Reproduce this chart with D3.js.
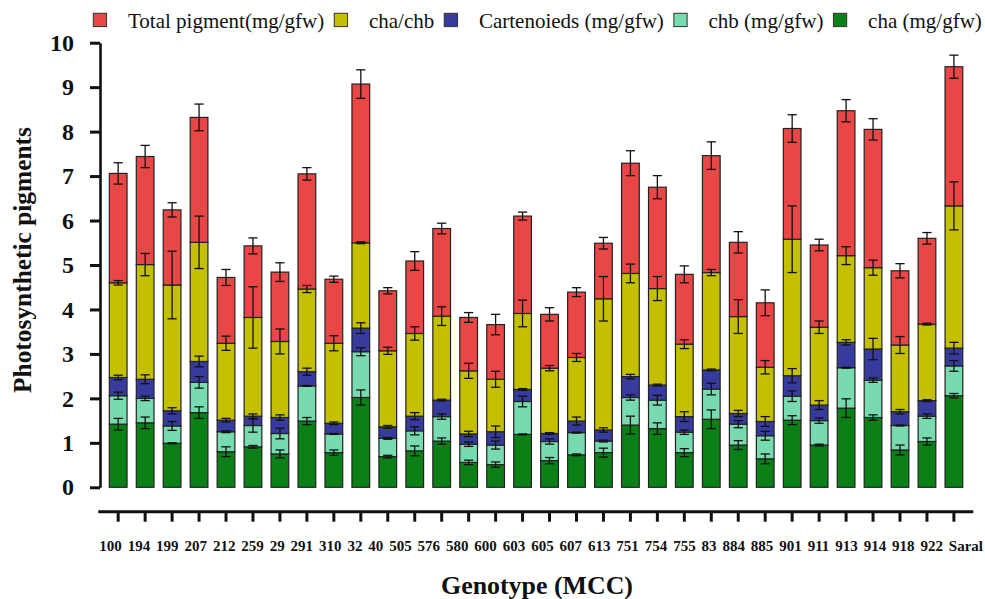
<!DOCTYPE html>
<html>
<head>
<meta charset="utf-8">
<script src="https://cdn.jsdelivr.net/npm/d3@7"></script>
<style>
  body { margin: 0; background: #fff; }
  svg { display: block; }
  text { font-family: "Liberation Serif", "Times New Roman", serif; }
</style>
</head>
<body>
<div id="chart"></div>
<script>
// genotypes on the x axis
const genotypes = ["100", "194", "199", "207", "212", "259", "29", "291", "310", "32", "40",
  "505", "576", "580", "600", "603", "605", "607", "613", "751", "754", "755", "83",
  "884", "885", "901", "911", "913", "914", "918", "922", "Saral"];

// stacked segment heights, bottom to top
const cha    = [1.42, 1.45, 0.99, 1.68, 0.80, 0.91, 0.75, 1.49, 0.78, 2.02, 0.69, 0.82, 1.04, 0.56, 0.51, 1.19,
                0.60, 0.73, 0.78, 1.40, 1.32, 0.78, 1.53, 0.95, 0.64, 1.51, 0.95, 1.78, 1.57, 0.84, 1.03, 2.06];
const chb    = [0.64, 0.55, 0.39, 0.68, 0.45, 0.48, 0.46, 0.79, 0.42, 1.03, 0.41, 0.45, 0.55, 0.41, 0.44, 0.74,
                0.43, 0.50, 0.26, 0.62, 0.64, 0.46, 0.68, 0.47, 0.52, 0.54, 0.55, 0.91, 0.84, 0.55, 0.57, 0.67];
const carot  = [0.41, 0.43, 0.34, 0.47, 0.26, 0.21, 0.36, 0.32, 0.24, 0.53, 0.26, 0.33, 0.37, 0.23, 0.30, 0.27,
                0.18, 0.26, 0.25, 0.47, 0.34, 0.35, 0.43, 0.24, 0.32, 0.46, 0.35, 0.57, 0.70, 0.31, 0.35, 0.40];
const chaChb = [2.13, 2.58, 2.83, 2.68, 1.73, 2.22, 1.71, 1.86, 1.80, 1.92, 1.71, 1.86, 1.89, 1.42, 1.18, 1.71,
                1.47, 1.43, 2.95, 2.32, 2.17, 1.63, 2.19, 2.18, 1.22, 3.07, 1.75, 1.95, 1.83, 1.50, 1.72, 3.20];
const total  = [2.46, 2.43, 1.69, 2.81, 1.48, 1.61, 1.56, 2.59, 1.44, 3.57, 1.35, 1.63, 1.97, 1.20, 1.23, 2.19,
                1.21, 1.47, 1.25, 2.48, 2.28, 1.57, 2.63, 1.67, 1.45, 2.49, 1.85, 3.26, 3.11, 1.67, 1.93, 3.13];

// error bars (+/-) for each segment
const chaErr    = [0.13, 0.13, 0.01, 0.13, 0.11, 0.03, 0.09, 0.08, 0.06, 0.17, 0.03, 0.11, 0.07, 0.05, 0.06, 0.01,
                   0.07, 0.02, 0.10, 0.20, 0.13, 0.09, 0.21, 0.10, 0.11, 0.10, 0.02, 0.21, 0.06, 0.11, 0.08, 0.05];
const chbErr    = [0.08, 0.05, 0.10, 0.13, 0.02, 0.15, 0.12, 0.01, 0.01, 0.09, 0.02, 0.09, 0.06, 0.05, 0.09, 0.12,
                   0.06, 0.01, 0.02, 0.06, 0.11, 0.05, 0.13, 0.08, 0.10, 0.12, 0.06, 0.01, 0.05, 0.01, 0.05, 0.12];
const carotErr  = [0.05, 0.10, 0.07, 0.12, 0.04, 0.05, 0.06, 0.08, 0.03, 0.12, 0.03, 0.08, 0.02, 0.06, 0.13, 0.02,
                   0.02, 0.09, 0.05, 0.05, 0.02, 0.11, 0.02, 0.07, 0.11, 0.16, 0.10, 0.06, 0.24, 0.05, 0.02, 0.13];
const chaChbErr = [0.05, 0.25, 0.76, 0.59, 0.16, 0.69, 0.28, 0.08, 0.17, 0.02, 0.08, 0.15, 0.21, 0.17, 0.18, 0.30,
                   0.06, 0.09, 0.50, 0.21, 0.27, 0.10, 0.07, 0.38, 0.15, 0.75, 0.14, 0.20, 0.17, 0.19, 0.02, 0.54];
const totalErr  = [0.24, 0.25, 0.16, 0.30, 0.18, 0.18, 0.21, 0.14, 0.07, 0.32, 0.07, 0.21, 0.12, 0.11, 0.23, 0.09,
                   0.15, 0.10, 0.13, 0.28, 0.26, 0.19, 0.31, 0.24, 0.29, 0.31, 0.13, 0.25, 0.24, 0.16, 0.13, 0.26];

const yTicks = [0, 1, 2, 3, 4, 5, 6, 7, 8, 9, 10];

const keys = ["cha", "chb", "carot", "ratio", "total"];
const labels = { cha: "cha (mg/gfw)", chb: "chb (mg/gfw)", carot: "Cartenoieds (mg/gfw)",
                 ratio: "cha/chb", total: "Total pigment(mg/gfw)" };
const colors = { cha: "#0b8017", chb: "#78dbaf", carot: "#373b9e", ratio: "#c4c000", total: "#e94646" };
const errs = { cha: chaErr, chb: chbErr, carot: carotErr, ratio: chaChbErr, total: totalErr };

const rows = genotypes.map((g, i) => ({
  genotype: g, cha: cha[i], chb: chb[i], carot: carot[i], ratio: chaChb[i], total: total[i]
}));

const svg = d3.select("#chart").append("svg")
  .attr("width", 985)
  .attr("height", 599);

const x = d3.scaleBand()
  .domain(genotypes)
  .range([104.7, 967.4])
  .paddingInner(0.343)
  .paddingOuter(0.1715);

const y = d3.scaleLinear()
  .domain([0, 10])
  .range([487.3, 42.7]);

const series = d3.stack().keys(keys)(rows);

// bars
svg.append("g")
  .selectAll("g")
  .data(series)
  .join("g")
  .attr("fill", d => colors[d.key])
  .selectAll("rect")
  .data(d => d)
  .join("rect")
  .attr("x", d => x(d.data.genotype))
  .attr("y", d => y(d[1]))
  .attr("width", x.bandwidth())
  .attr("height", d => y(d[0]) - y(d[1]))
  .attr("stroke", "#222")
  .attr("stroke-width", 1.2);

// error bars at the top of each segment
const errG = svg.append("g").attr("stroke", "#111").attr("stroke-width", 1.3);
series.forEach(s => {
  s.forEach((d, i) => {
    const e = errs[s.key][i];
    const cx = x(d.data.genotype) + x.bandwidth() / 2;
    const y1 = y(d[1] + e), y2 = y(d[1] - e);
    errG.append("line").attr("x1", cx).attr("x2", cx).attr("y1", y1).attr("y2", y2);
    errG.append("line").attr("x1", cx - 4.6).attr("x2", cx + 4.6).attr("y1", y1).attr("y2", y1);
    errG.append("line").attr("x1", cx - 4.6).attr("x2", cx + 4.6).attr("y1", y2).attr("y2", y2);
  });
});

// y axis
const yAxis = svg.append("g")
  .attr("transform", "translate(100,0)")
  .call(d3.axisLeft(y).tickValues(yTicks).tickSize(10).tickSizeOuter(0).tickPadding(16));
yAxis.select(".domain").attr("stroke", "#111").attr("stroke-width", 2.6);
yAxis.selectAll(".tick line").attr("stroke", "#111").attr("stroke-width", 3);
yAxis.selectAll(".tick text")
  .attr("font-size", 24)
  .attr("font-weight", "bold")
  .attr("fill", "#111");

// x axis (separate line below the bars)
const xAxis = svg.append("g")
  .attr("transform", "translate(0,511.7)")
  .call(d3.axisBottom(x).tickSize(10).tickSizeOuter(0).tickFormat(""));
xAxis.select(".domain").remove();
xAxis.selectAll(".tick line").attr("stroke", "#111").attr("stroke-width", 3);
xAxis.append("line")
  .attr("x1", 98.3).attr("x2", 973.3)
  .attr("y1", 0).attr("y2", 0)
  .attr("stroke", "#111").attr("stroke-width", 3);

// tick labels flow as one row of text
const labG = svg.append("g")
  .attr("font-size", 15)
  .attr("font-weight", "bold")
  .attr("fill", "#111");
const labTexts = labG.selectAll("text")
  .data(genotypes)
  .join("text")
  .attr("y", 550.7)
  .text(d => d);
const widths = labTexts.nodes().map(n => n.getComputedTextLength());
const gap = (983 - 99.3 - d3.sum(widths)) / (genotypes.length - 1);
let cursor = 99.3;
labTexts.attr("x", (d, i) => { const v = cursor; cursor += widths[i] + gap; return v; });

// axis titles
svg.append("text")
  .attr("transform", "rotate(-90)")
  .attr("x", -260)
  .attr("y", 31)
  .attr("text-anchor", "middle")
  .attr("font-size", 25.4)
  .attr("font-weight", "bold")
  .attr("fill", "#111")
  .text("Photosynthetic pigments");

svg.append("text")
  .attr("x", 537)
  .attr("y", 594)
  .attr("text-anchor", "middle")
  .attr("font-size", 25.9)
  .attr("font-weight", "bold")
  .attr("fill", "#111")
  .text("Genotype (MCC)");

// legend
const legend = svg.append("g");
let lx = 93.3;
keys.slice().reverse().forEach(k => {
  legend.append("rect")
    .attr("x", lx).attr("y", 13.3)
    .attr("width", 13.3).attr("height", 13.3)
    .attr("fill", colors[k])
    .attr("stroke", "#333").attr("stroke-width", 1);
  const t = legend.append("text")
    .attr("x", lx + 34.7)
    .attr("y", 28)
    .attr("font-size", 21)
    .attr("fill", "#111")
    .text(labels[k]);
  lx += 34.7 + t.node().getComputedTextLength() + 10;
});
</script>
</body>
</html>
